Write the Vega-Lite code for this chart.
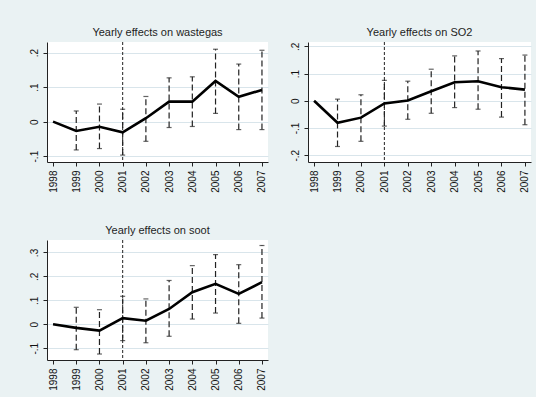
{
  "$schema": "https://vega.github.io/schema/vega-lite/v6.json",
  "background": "#eaf2f3",
  "padding": {"left": 29, "top": 26, "right": 5, "bottom": 5},
  "config": {
    "font": "Liberation Sans",
    "view": {"fill": "white", "stroke": null},
    "title": {"fontSize": 11, "fontWeight": "normal", "color": "#1e1e1e", "offset": 4, "anchor": "middle"},
    "axis": {"domainColor": "#222", "tickColor": "#222", "labelColor": "#111", "labelFont": "Liberation Sans", "labelFontSize": 10, "title": null, "tickSize": 4, "labelPadding": 4, "labelOverlap": false, "tickCount": 20},
    "axisX": {"grid": false, "labelAngle": -90, "minExtent": 32, "maxExtent": 32},
    "axisY": {"grid": true, "gridColor": "#d9e5eb", "labelAngle": -90, "minExtent": 18, "maxExtent": 18, "labelAlign": "center", "labelBaseline": "bottom"}
  },
  "datasets": {
    "est": [
      {"panel": "wastegas", "year": 1998, "b": 0.0, "lo": null, "hi": null},
      {"panel": "wastegas", "year": 1999, "b": -0.027, "lo": -0.082, "hi": 0.031},
      {"panel": "wastegas", "year": 2000, "b": -0.015, "lo": -0.078, "hi": 0.051},
      {"panel": "wastegas", "year": 2001, "b": -0.031, "lo": -0.097, "hi": 0.036},
      {"panel": "wastegas", "year": 2002, "b": 0.010, "lo": -0.057, "hi": 0.073},
      {"panel": "wastegas", "year": 2003, "b": 0.058, "lo": -0.017, "hi": 0.127},
      {"panel": "wastegas", "year": 2004, "b": 0.058, "lo": -0.014, "hi": 0.130},
      {"panel": "wastegas", "year": 2005, "b": 0.118, "lo": 0.024, "hi": 0.210},
      {"panel": "wastegas", "year": 2006, "b": 0.072, "lo": -0.023, "hi": 0.167},
      {"panel": "wastegas", "year": 2007, "b": 0.092, "lo": -0.023, "hi": 0.207},
      {"panel": "SO2", "year": 1998, "b": 0.0, "lo": null, "hi": null},
      {"panel": "SO2", "year": 1999, "b": -0.081, "lo": -0.168, "hi": 0.006},
      {"panel": "SO2", "year": 2000, "b": -0.062, "lo": -0.149, "hi": 0.022},
      {"panel": "SO2", "year": 2001, "b": -0.010, "lo": -0.093, "hi": 0.075},
      {"panel": "SO2", "year": 2002, "b": 0.001, "lo": -0.068, "hi": 0.072},
      {"panel": "SO2", "year": 2003, "b": 0.035, "lo": -0.046, "hi": 0.116},
      {"panel": "SO2", "year": 2004, "b": 0.068, "lo": -0.025, "hi": 0.165},
      {"panel": "SO2", "year": 2005, "b": 0.072, "lo": -0.031, "hi": 0.183},
      {"panel": "SO2", "year": 2006, "b": 0.050, "lo": -0.060, "hi": 0.155},
      {"panel": "SO2", "year": 2007, "b": 0.041, "lo": -0.088, "hi": 0.168},
      {"panel": "soot", "year": 1998, "b": 0.0, "lo": null, "hi": null},
      {"panel": "soot", "year": 1999, "b": -0.015, "lo": -0.106, "hi": 0.071},
      {"panel": "soot", "year": 2000, "b": -0.026, "lo": -0.124, "hi": 0.061},
      {"panel": "soot", "year": 2001, "b": 0.026, "lo": -0.068, "hi": 0.117},
      {"panel": "soot", "year": 2002, "b": 0.015, "lo": -0.077, "hi": 0.106},
      {"panel": "soot", "year": 2003, "b": 0.064, "lo": -0.050, "hi": 0.183},
      {"panel": "soot", "year": 2004, "b": 0.134, "lo": 0.022, "hi": 0.245},
      {"panel": "soot", "year": 2005, "b": 0.169, "lo": 0.047, "hi": 0.291},
      {"panel": "soot", "year": 2006, "b": 0.127, "lo": 0.004, "hi": 0.249},
      {"panel": "soot", "year": 2007, "b": 0.176, "lo": 0.026, "hi": 0.329}
    ],
    "ref": [{"year": 2001}]
  },
  "columns": 2,
  "spacing": {"column": 22, "row": 30},
  "concat": [
    {
      "title": "Yearly effects on wastegas",
      "width": 221, "height": 120,
      "data": {"name": "est"},
      "transform": [{"filter": "datum.panel === 'wastegas'"}],
      "encoding": {
        "x": {"field": "year", "type": "quantitative", "scale": {"domain": [1997.74, 2007.26], "nice": false, "zero": false},
              "axis": {"values": [1998, 1999, 2000, 2001, 2002, 2003, 2004, 2005, 2006, 2007], "format": "d"}}
      },
      "layer": [
        {"mark": {"type": "rule", "color": "#222", "strokeWidth": 1, "strokeDash": [3, 2]}, "data": {"name": "ref"}, "transform": [], "encoding": {"x": {"field": "year", "type": "quantitative"}}},
        {"mark": {"type": "rule", "color": "#222", "strokeWidth": 1.2, "strokeDash": [6, 3]},
         "transform": [{"filter": "datum.lo != null"}],
         "encoding": {"y": {"field": "lo", "type": "quantitative"}, "y2": {"field": "hi"}}},
        {"mark": {"type": "tick", "orient": "horizontal", "color": "#222", "size": 5, "thickness": 1.2},
         "transform": [{"filter": "datum.lo != null"}],
         "encoding": {"y": {"field": "lo", "type": "quantitative"}}},
        {"mark": {"type": "tick", "orient": "horizontal", "color": "#222", "size": 5, "thickness": 1.2},
         "transform": [{"filter": "datum.lo != null"}],
         "encoding": {"y": {"field": "hi", "type": "quantitative"}}},
        {"mark": {"type": "line", "color": "black", "strokeWidth": 2.6},
         "encoding": {"y": {"field": "b", "type": "quantitative",
                            "scale": {"domain": [-0.117, 0.231], "nice": false, "zero": false},
                            "axis": {"values": [-0.1, 0, 0.1, 0.2], "labelExpr": "datum.value == 0 ? '0' : replace(replace(format(datum.value, '.1f'), '0.', '.'), '\u2212', '-')"}}}}
      ]
    },
    {
      "title": "Yearly effects on SO2",
      "width": 223, "height": 120,
      "data": {"name": "est"},
      "transform": [{"filter": "datum.panel === 'SO2'"}],
      "encoding": {
        "x": {"field": "year", "type": "quantitative", "scale": {"domain": [1997.74, 2007.26], "nice": false, "zero": false},
              "axis": {"values": [1998, 1999, 2000, 2001, 2002, 2003, 2004, 2005, 2006, 2007], "format": "d"}}
      },
      "layer": [
        {"mark": {"type": "rule", "color": "#222", "strokeWidth": 1, "strokeDash": [3, 2]}, "data": {"name": "ref"}, "transform": [], "encoding": {"x": {"field": "year", "type": "quantitative"}}},
        {"mark": {"type": "rule", "color": "#222", "strokeWidth": 1.2, "strokeDash": [6, 3]},
         "transform": [{"filter": "datum.lo != null"}],
         "encoding": {"y": {"field": "lo", "type": "quantitative"}, "y2": {"field": "hi"}}},
        {"mark": {"type": "tick", "orient": "horizontal", "color": "#222", "size": 5, "thickness": 1.2},
         "transform": [{"filter": "datum.lo != null"}],
         "encoding": {"y": {"field": "lo", "type": "quantitative"}}},
        {"mark": {"type": "tick", "orient": "horizontal", "color": "#222", "size": 5, "thickness": 1.2},
         "transform": [{"filter": "datum.lo != null"}],
         "encoding": {"y": {"field": "hi", "type": "quantitative"}}},
        {"mark": {"type": "line", "color": "black", "strokeWidth": 2.6},
         "encoding": {"y": {"field": "b", "type": "quantitative",
                            "scale": {"domain": [-0.225, 0.216], "nice": false, "zero": false},
                            "axis": {"values": [-0.2, -0.1, 0, 0.1, 0.2], "labelExpr": "datum.value == 0 ? '0' : replace(replace(format(datum.value, '.1f'), '0.', '.'), '\u2212', '-')"}}}}
      ]
    },
    {
      "title": "Yearly effects on soot",
      "width": 221, "height": 120,
      "data": {"name": "est"},
      "transform": [{"filter": "datum.panel === 'soot'"}],
      "encoding": {
        "x": {"field": "year", "type": "quantitative", "scale": {"domain": [1997.74, 2007.26], "nice": false, "zero": false},
              "axis": {"values": [1998, 1999, 2000, 2001, 2002, 2003, 2004, 2005, 2006, 2007], "format": "d"}}
      },
      "layer": [
        {"mark": {"type": "rule", "color": "#222", "strokeWidth": 1, "strokeDash": [3, 2]}, "data": {"name": "ref"}, "transform": [], "encoding": {"x": {"field": "year", "type": "quantitative"}}},
        {"mark": {"type": "rule", "color": "#222", "strokeWidth": 1.2, "strokeDash": [6, 3]},
         "transform": [{"filter": "datum.lo != null"}],
         "encoding": {"y": {"field": "lo", "type": "quantitative"}, "y2": {"field": "hi"}}},
        {"mark": {"type": "tick", "orient": "horizontal", "color": "#222", "size": 5, "thickness": 1.2},
         "transform": [{"filter": "datum.lo != null"}],
         "encoding": {"y": {"field": "lo", "type": "quantitative"}}},
        {"mark": {"type": "tick", "orient": "horizontal", "color": "#222", "size": 5, "thickness": 1.2},
         "transform": [{"filter": "datum.lo != null"}],
         "encoding": {"y": {"field": "hi", "type": "quantitative"}}},
        {"mark": {"type": "line", "color": "black", "strokeWidth": 2.6},
         "encoding": {"y": {"field": "b", "type": "quantitative",
                            "scale": {"domain": [-0.149, 0.352], "nice": false, "zero": false},
                            "axis": {"values": [-0.1, 0, 0.1, 0.2, 0.3], "labelExpr": "datum.value == 0 ? '0' : replace(replace(format(datum.value, '.1f'), '0.', '.'), '\u2212', '-')"}}}}
      ]
    }
  ]
}
